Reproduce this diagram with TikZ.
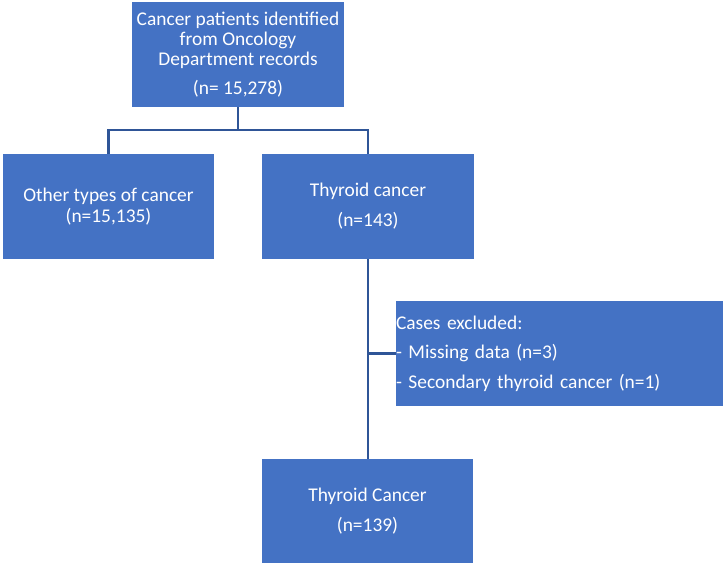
\documentclass[tikz,border=0pt]{standalone}
\usepackage{fontspec}
\setmainfont{Carlito}
\definecolor{boxblue}{HTML}{4472C4}
\definecolor{lineblue}{HTML}{2F5597}

\begin{document}
\begin{tikzpicture}[x=1bp, y=-1bp,
  box/.style={fill=boxblue, text=white, inner sep=0pt, align=center, minimum width=212bp, minimum height=105bp, font=\fontsize{19.5}{20.5}\selectfont},
  link/.style={draw=lineblue, line width=2.6bp}]
\path[use as bounding box] (0,0) rectangle (725,566);
\node[box] (top) at (238,54.5) {Cancer patients identified\\from Oncology\\Department records\\[8.5bp](n= 15,278)};
\node[box, minimum width=211bp] (other) at (108.5,206.5) {Other types of cancer\\(n=15,135)};
\node[box] (thyroid) at (368,206.5) {Thyroid cancer\\[9.5bp](n=143)};
\node[box, minimum width=327bp, text width=327bp, align=left] (excl) at (559.5,353.5) {Cases excluded:\\[9bp]- Missing data (n=3)\\[9bp]- Secondary thyroid cancer (n=1)};
\node[box, minimum width=211bp, minimum height=104bp] (final) at (367.5,511) {Thyroid Cancer\\[9.5bp](n=139)};
\coordinate (split) at (238,130);
\coordinate (branch) at (thyroid.south |- excl.west);
\draw[link] (top.south) -- (split);
\draw[link] (other.north) |- (split) -| (thyroid.north);
\draw[link] (thyroid.south) -- (thyroid.south |- final.north);
\draw[link] (branch) -- (excl.west);
\end{tikzpicture}
\end{document}
